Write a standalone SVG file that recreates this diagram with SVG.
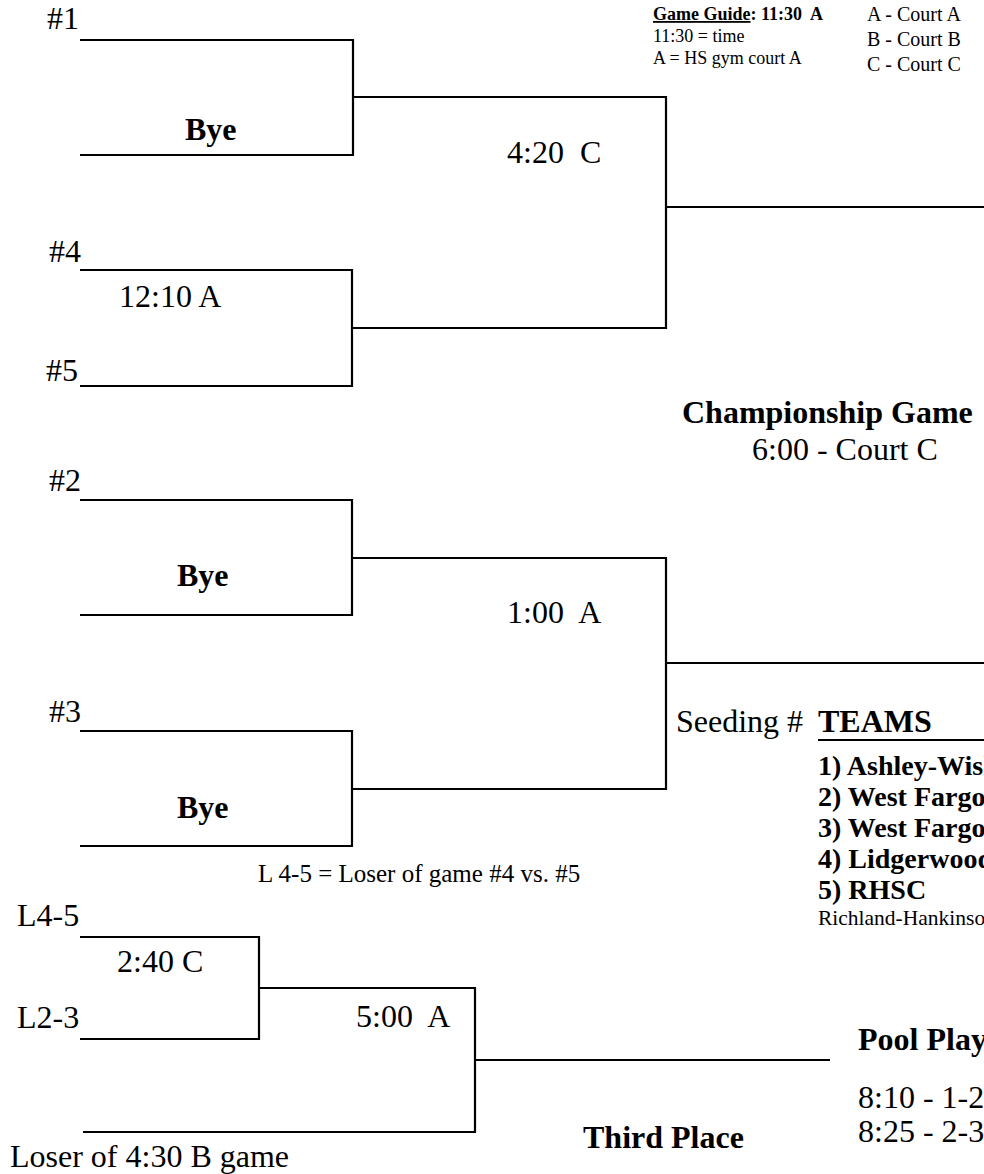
<svg xmlns="http://www.w3.org/2000/svg" width="984" height="1174" viewBox="0 0 984 1174">
<style>
text{font-family:"Liberation Serif","Times New Roman",serif;fill:#000}
.t{font-size:32px}
.b{font-weight:bold}
.s{font-size:18px}
.c{font-size:20px}
.m{font-size:25px}
.tm{font-size:28px;font-weight:bold}
.ln{stroke:#000;stroke-width:2.2;fill:none}
</style>
<rect width="984" height="1174" fill="#fff"/>
<g id="connectors" class="ln">
<path d="M80 40H353V155H80"/>
<path d="M80 270H352V386H80"/>
<path d="M353 97H666V328H352"/>
<path d="M666 207H984"/>
<path d="M80 500H352V615H80"/>
<path d="M80 731H352V846H80"/>
<path d="M352 558H666V789H352"/>
<path d="M666 663H984"/>
<path d="M80 937H259V1039H80"/>
<path d="M259 988H475V1132H83"/>
<path d="M475 1060H830"/>
</g>
<g id="legend">
<text x="653" y="20" class="s b"><tspan text-decoration="underline">Game Guide</tspan>: 11:30&#160; A</text>
<text x="653" y="42" class="s">11:30 = time</text>
<text x="653" y="64" class="s">A = HS gym court A</text>
<text x="867" y="21" class="c">A - Court A</text>
<text x="867" y="46" class="c">B - Court B</text>
<text x="867" y="71" class="c">C - Court C</text>
</g>
<g id="seed1"><text x="47" y="29" class="t">#1</text><text x="185" y="140" class="t b">Bye</text></g>
<g id="seed4"><text x="49" y="262" class="t">#4</text></g>
<g id="game-4-5"><text x="119" y="307" class="t">12:10 A</text></g>
<g id="seed5"><text x="46" y="381" class="t">#5</text></g>
<g id="game-420"><text x="507" y="163" class="t">4:20&#160; C</text></g>
<g id="championship">
<text x="682" y="423" class="t b">Championship Game</text>
<text x="752" y="460" class="t">6:00 - Court C</text>
</g>
<g id="seed2"><text x="49" y="491" class="t">#2</text><text x="177" y="586" class="t b">Bye</text></g>
<g id="game-100"><text x="507" y="623" class="t">1:00&#160; A</text></g>
<g id="seed3"><text x="49" y="722" class="t">#3</text><text x="177" y="818" class="t b">Bye</text></g>
<g id="teams">
<text x="676" y="732" class="t">Seeding #</text>
<text x="818" y="732" class="t b">TEAMS</text>
<line x1="818" y1="740" x2="984" y2="740" stroke="#000" stroke-width="2.2"/>
<text x="818" y="775" class="tm">1) Ashley-Wishek</text>
<text x="818" y="806" class="tm">2) West Fargo</text>
<text x="818" y="837" class="tm">3) West Fargo</text>
<text x="818" y="868" class="tm">4) Lidgerwood</text>
<text x="818" y="899" class="tm">5) RHSC</text>
<text x="818" y="925" style="font-size:21.5px">Richland-Hankinson</text>
</g>
<g id="note"><text x="258" y="882" class="m">L 4-5 = Loser of game #4 vs. #5</text></g>
<g id="l45"><text x="17" y="926" class="t">L4-5</text></g>
<g id="game-240"><text x="117" y="972" class="t">2:40 C</text></g>
<g id="l23"><text x="17" y="1028" class="t">L2-3</text></g>
<g id="game-500"><text x="356" y="1027" class="t">5:00&#160; A</text></g>
<g id="loser430"><text x="10" y="1167" class="t">Loser of 4:30 B game</text></g>
<g id="third"><text x="583" y="1148" class="t b">Third Place</text></g>
<g id="pool">
<text x="858" y="1050" class="t b">Pool Play</text>
<text x="858" y="1108" class="t">8:10 - 1-2</text>
<text x="858" y="1142" class="t">8:25 - 2-3</text>
</g>
</svg>
